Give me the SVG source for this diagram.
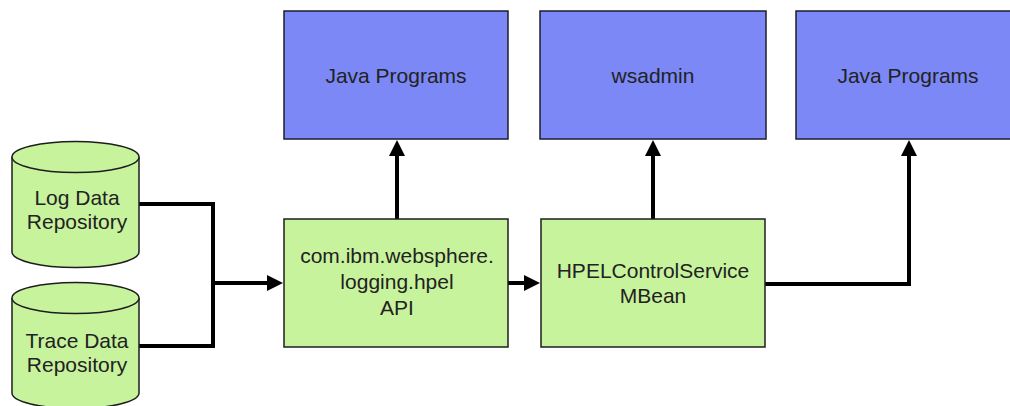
<svg xmlns="http://www.w3.org/2000/svg" width="1010" height="406" viewBox="0 0 1010 406">
  <style>
    .blue { fill: #7b88f6; stroke: #1e1e2e; stroke-width: 1.5; }
    .green { fill: #c8f39d; stroke: #1e1e1e; stroke-width: 1.5; }
    .lbl { font-family: "Liberation Sans", Arial, sans-serif; font-size: 21px; fill: #222; text-anchor: middle; }
    .conn { fill: none; stroke: #000; stroke-width: 4; stroke-linejoin: miter; }
  </style>
  <defs>
    <marker id="arrow" markerUnits="userSpaceOnUse" viewBox="0 0 16 16" markerWidth="16" markerHeight="16" refX="1" refY="8" orient="auto">
      <path d="M0,0 L16,8 L0,16 Z" fill="#000"/>
    </marker>
  </defs>
  <rect width="1010" height="406" fill="#fff"/>

  <g id="connectors">
    <path class="conn" d="M139,204 H213 V346 H139"/>
    <path class="conn" d="M213,283 H268" marker-end="url(#arrow)"/>
    <path class="conn" d="M508,283 H525" marker-end="url(#arrow)"/>
    <path class="conn" d="M397,219 V155" marker-end="url(#arrow)"/>
    <path class="conn" d="M653,219 V155" marker-end="url(#arrow)"/>
    <path class="conn" d="M765,284 H909 V155" marker-end="url(#arrow)"/>
  </g>

  <g id="java-programs-1">
    <rect class="blue" x="284" y="11" width="224" height="128"/>
    <text class="lbl" x="396" y="83">Java Programs</text>
  </g>
  <g id="wsadmin">
    <rect class="blue" x="540" y="11" width="226" height="128"/>
    <text class="lbl" x="653" y="83">wsadmin</text>
  </g>
  <g id="java-programs-2">
    <rect class="blue" x="796" y="11" width="224" height="128"/>
    <text class="lbl" x="908" y="83">Java Programs</text>
  </g>

  <g id="log-data-repository">
    <path class="green" d="M12,157 A63.5,15.5 0 0 1 139,157 V252 A63.5,15.5 0 0 1 12,252 Z"/>
    <path class="green" d="M12,157 A63.5,15.5 0 0 0 139,157" fill="none"/>
    <text class="lbl" x="77" y="205">Log Data</text>
    <text class="lbl" x="77" y="229">Repository</text>
  </g>
  <g id="trace-data-repository">
    <path class="green" d="M12,298 A63.5,15.5 0 0 1 139,298 V393 A63.5,15.5 0 0 1 12,393 Z"/>
    <path class="green" d="M12,298 A63.5,15.5 0 0 0 139,298" fill="none"/>
    <text class="lbl" x="77" y="348">Trace Data</text>
    <text class="lbl" x="77" y="372">Repository</text>
  </g>

  <g id="hpel-api">
    <rect class="green" x="284" y="219" width="224" height="128"/>
    <text class="lbl" x="397" y="263">com.ibm.websphere.</text>
    <text class="lbl" x="397" y="289">logging.hpel</text>
    <text class="lbl" x="397" y="315">API</text>
  </g>
  <g id="hpel-control-service">
    <rect class="green" x="541" y="219" width="224" height="128"/>
    <text class="lbl" x="653" y="278">HPELControlService</text>
    <text class="lbl" x="653" y="303">MBean</text>
  </g>
</svg>
